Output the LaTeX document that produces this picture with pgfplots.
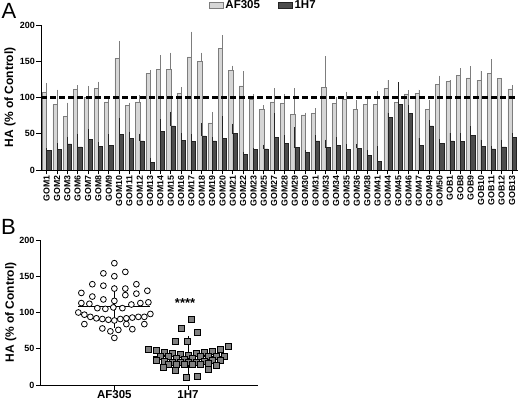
\documentclass[border=0pt]{standalone}
\usepackage{pgfplots}
\pgfplotsset{compat=1.18}
\usepackage{pgfplotstable}
\usepackage{fontspec}
\setmainfont{Liberation Sans}
\definecolor{lightbar}{RGB}{214,214,214}
\definecolor{lightedge}{RGB}{125,125,125}
\definecolor{darkbar}{RGB}{76,76,76}
\definecolor{darkedge}{RGB}{35,35,35}
\definecolor{sqfill}{RGB}{128,128,128}

\pgfplotstableread{
x a ae b be
0 107 13 27 3
1 90 21 28 9
2 74 19 36 10
3 111 6 32 18
4 100 16 42 14
5 113 9 33 5
6 94 5 34 15
7 154 24 49 23
8 89 4 44 9
9 94 9 40 10
10 133 5 11 6
11 139 19 53 17
12 139 23 61 19
13 106 8 41 10
14 156 35 39 10
15 150 12 47 18
16 65 15 40 5
17 168 18 44 30
18 137 7 50 14
19 116 20 22 3
20 98 7 28 3
21 84 5 29 6
22 94 19 45 33
23 92 13 37 11
24 77 36 31 28
25 76 3 24 3
26 78 7 40 8
27 114 43 31 11
28 92 8 34 11
29 97 11 28 8
30 84 12 30 6
31 91 10 20 8
32 91 18 12 21
33 113 11 73 6
34 93 14 91 30
35 105 5 78 12
36 106 5 34 10
37 84 13 61 8
38 118 12 37 6
39 122 2 40 11
40 130 10 39 12
41 127 16 48 12
42 124 13 33 9
43 133 20 29 4
44 126 1 32 10
45 112 5 45 6
}\barsdata

\pgfplotstableread{
x y
1.000 168
0.851 154
1.000 150
1.149 156
0.701 139
0.851 137
1.000 133
1.149 133
1.299 139
0.552 127
0.701 122
0.851 118
1.000 116
1.149 124
1.299 126
1.448 130
0.552 113
0.661 112
0.769 106
0.878 105
0.986 107
1.109 106
1.231 111
1.353 113
1.462 114
0.511 100
0.593 97
0.674 94
0.756 92
0.837 91
0.919 90
1.000 89
1.081 91
1.163 92
1.244 93
1.326 94
1.407 94
1.489 98
0.593 84
1.407 84
1.163 84
0.837 78
1.244 77
0.946 74
1.054 76
1.000 65
}\afdata

\pgfplotstableread{
x y
2.041 91
1.905 78
2.122 73
1.824 61
1.986 61
1.457 50
1.566 48
1.674 45
1.783 44
1.891 42
2.000 41
2.109 44
2.217 45
2.326 47
2.434 49
2.543 53
1.620 40
1.728 39
1.837 37
1.946 36
2.054 37
2.163 39
2.272 40
2.380 40
2.489 40
1.566 34
1.674 33
1.783 32
1.891 31
2.000 31
2.109 32
2.217 33
2.326 34
2.434 34
1.728 29
1.837 28
1.946 28
2.054 28
2.163 29
2.272 30
2.380 27
1.661 24
2.272 22
1.824 20
2.122 12
1.973 11
}\hdata

\begin{document}
\begin{tikzpicture}
\path[use as bounding box] (0pt,0pt) rectangle (520pt,402pt);

\pgfplotsset{
  panelstyle/.style={
    scale only axis,
    axis x line*=bottom,
    axis y line*=left,
    axis line style={line width=0.9pt, black},
    tick align=outside,
    major tick length=4.5pt,
    tick style={line width=0.9pt, black},
    ymin=0, ymax=200,
    ytick={0,50,100,150,200},
    /pgf/number format/assume math mode=true,
    yticklabel style={font=\fontsize{9}{10}\selectfont\bfseries, inner sep=1.5pt},
    ylabel={HA (\% of Control)},
    ylabel style={font=\fontsize{12}{14}\selectfont\bfseries},
  }
}

% Panel A
\begin{axis}[
  panelstyle,
  at={(41pt,232pt)}, anchor=south west,
  width=477pt, height=145pt,
  xmin=-0.55, xmax=45.58,
  xtick={0,...,45},
  xticklabels={GOM1,GOM2,GOM3,GOM6,GOM7,GOM8,GOM9,GOM10,GOM11,GOM12,GOM13,GOM14,GOM15,GOM16,GOM17,GOM18,GOM19,GOM20,GOM21,GOM22,GOM23,GOM25,GOM27,GOM28,GOM29,GOM30,GOM31,GOM33,GOM34,GOM35,GOM36,GOM38,GOM41,GOM44,GOM45,GOM46,GOM47,GOM49,GOM50,GOB1,GOB8,GOB9,GOB10,GOB11,GOB12,GOB13},
  xticklabel style={rotate=90, anchor=east, font=\fontsize{8.8}{10}\selectfont\bfseries, inner sep=1pt},
  ylabel style={at={(rel axis cs:0,0.5)}, anchor=center, yshift=31pt},
  legend columns=2,
  legend style={draw=none, fill=none, at={(0.466,1.134)}, anchor=center,
    font=\fontsize{11.5}{13}\selectfont\bfseries,
    /tikz/every even column/.append style={column sep=16pt}},
]
\addlegendimage{legend image code/.code={\draw[fill=lightbar, draw=lightedge, line width=0.6pt] (0pt,-3pt) rectangle (14pt,3pt);}}
\addlegendentry{AF305}
\addlegendimage{legend image code/.code={\draw[fill=darkbar, draw=darkedge, line width=0.6pt] (0pt,-3pt) rectangle (14pt,3pt);}}
\addlegendentry{1H7}

\addplot[ybar, bar width=0.4, bar shift=-0.2, fill=lightbar, draw=lightedge, line width=0.5pt, forget plot,
  error bars/.cd, y dir=plus, y explicit, error mark=none,
  error bar style={lightedge, line width=0.8pt}]
  table[x=x, y=a, y error=ae] {\barsdata};
\addplot[ybar, bar width=0.4, bar shift=0.2, fill=darkbar, draw=darkedge, line width=0.5pt, forget plot,
  error bars/.cd, y dir=plus, y explicit, error mark=none,
  error bar style={darkedge, line width=0.8pt}]
  table[x=x, y=b, y error=be] {\barsdata};
\addplot[black, line width=2.2pt, dash pattern=on 6pt off 3pt, forget plot]
  coordinates {(-0.55,100) (45.58,100)};
\end{axis}

% Panel B
\begin{axis}[
  panelstyle,
  at={(40.7pt,17pt)}, anchor=south west,
  width=217.3pt, height=145pt,
  xmin=0, xmax=2.95,
  xtick={1,2},
  xticklabels={AF305,1H7},
  xticklabel style={font=\fontsize{11.5}{13}\selectfont\bfseries, inner sep=0.5pt},
  ylabel style={at={(rel axis cs:0,0.5)}, anchor=center, yshift=30pt},
]
\addplot[only marks, mark=*, mark size=2.9pt, mark options={fill=white, draw=black, line width=0.8pt}]
  table[x=x, y=y] {\afdata};
\addplot[only marks, mark=square*, mark size=3pt, mark options={fill=sqfill, draw=black, line width=0.5pt}]
  table[x=x, y=y] {\hdata};
\addplot[black, line width=1.3pt] coordinates {(0.51,108.6) (1.49,108.6)};
\addplot[black, line width=1.3pt] coordinates {(1.525,39.2) (2.475,39.2)};
\addplot[draw=none, mark=none,
  error bars/.cd, y dir=both, y explicit, error mark=-,
  error mark options={black, line width=1pt, mark size=19pt},
  error bar style={black, line width=1pt}]
  coordinates {(1,108.6) +- (0,3.3) (2,39.2) +- (0,2.4)};
\node[font=\fontsize{13}{14}\selectfont\bfseries] at (axis cs:1.96,113) {****};
\end{axis}

\node[font=\fontsize{22}{24}\selectfont] at (9pt,391pt) {A};
\node[font=\fontsize{22}{24}\selectfont] at (8.5pt,175pt) {B};
\end{tikzpicture}
\end{document}
